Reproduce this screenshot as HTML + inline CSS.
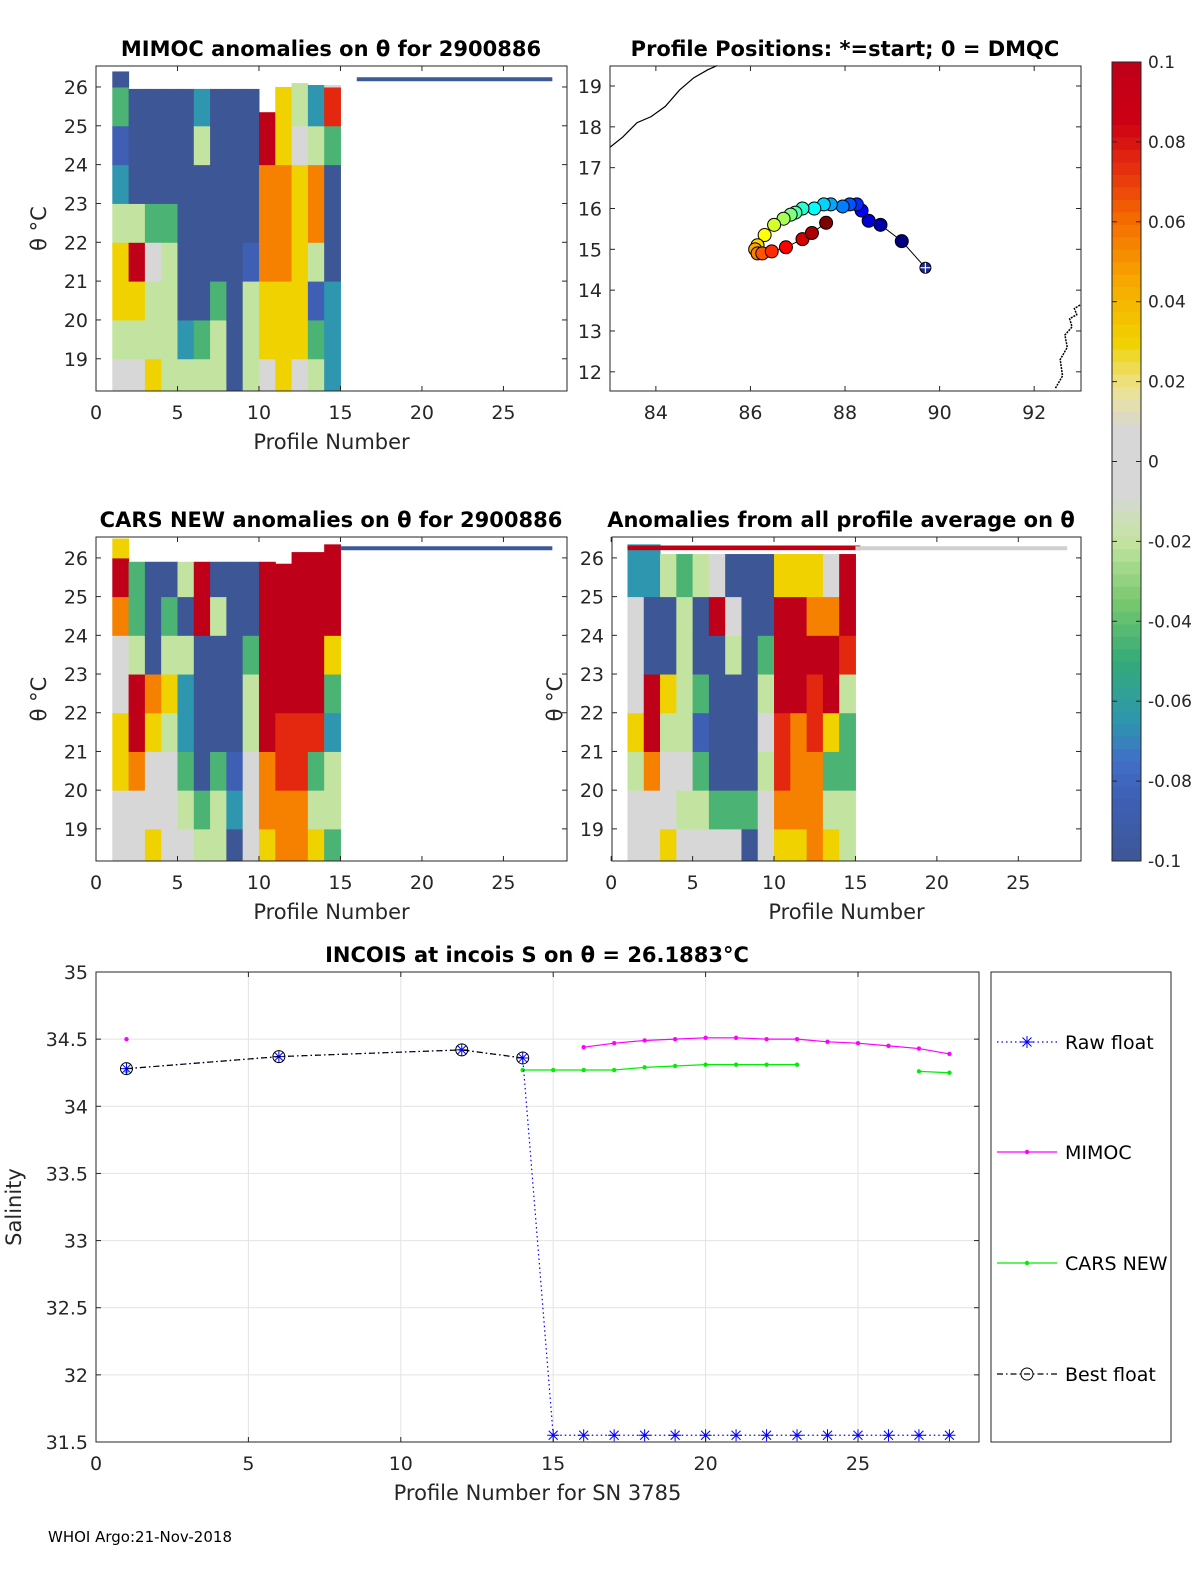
<!DOCTYPE html>
<html><head><meta charset="utf-8"><style>
body{margin:0;background:#fff}
svg{display:block;font-family:"DejaVu Sans","Liberation Sans",sans-serif}
</style></head><body>
<svg id="s" width="1200" height="1575" viewBox="0 0 1200 1575" xmlns="http://www.w3.org/2000/svg"></svg>
<script>
// ---------- data ----------
const codeVals = {B:-0.1,b:-0.085,t:-0.065,g:-0.045,l:-0.02,'0':0,y:0.03,o:0.055,r:0.075,R:0.1};
const bandEdges = [18.17,19,20,21,22,23,24,25,26];
const mimocCols = ['0lyyltbgB','0lyRlBBBB','yll0gBBBB','llllgBBBB','ltBBBBBBB','lgBBBBltB','llgBBBBBB','BBBBBBBBB','lllbBBBBB','0yyoooRRR','yyyoooyy0','0yyyyy0ll','lgblooltt','tttBBBgr0'];
const mimocTops = [26.4,25.95,25.95,25.95,25.95,25.95,25.95,25.95,25.95,25.35,26.0,26.1,26.05,26.05];
const carsCols = ['00yy00oRy','00oRRlggo','y00yoBBBo','000lylgBr','0lgttlBlR','lgBBBBRRR','llgBBBlBB','BtbBBBBBB','000llgBBt','yooRRRRRR','oorrRRRRR','oorrRRRRR','ylgrRRRRR','glltgyRRR'];
const carsTops = [26.5,25.9,25.9,25.9,25.9,25.9,25.9,25.9,25.9,25.9,25.85,26.15,26.15,26.35];
const avgCols = ['00ly000tt','00oRRBBtt','y00lyBBll','0l0llllgg','0lgbgBBll','0gBBBBR00','0gBBBl0BB','BgBBBBBBB','00l0lgBBB','yorrRRRyy','yoooRRRyy','ooorrRoyy','ylgyRRo00','llgglrRRR'];
const avgTops = [26.35,26.35,26.1,26.1,26.1,26.1,26.1,26.1,26.1,26.1,26.1,26.1,26.1,26.1];

const mapLon = [89.2,88.75,88.5,88.35,88.25,88.1,87.95,87.7,87.55,87.35,87.1,86.95,86.85,86.7,86.5,86.3,86.15,86.1,86.15,86.25,86.45,86.75,87.1,87.3,87.6];
const mapLat = [15.2,15.6,15.7,15.95,16.1,16.1,16.05,16.1,16.1,16.0,16.0,15.9,15.85,15.75,15.6,15.35,15.1,15.0,14.9,14.9,14.95,15.05,15.25,15.4,15.65];
const startLon = 89.7, startLat = 14.55;
const coastA_lon = [83.03,83.3,83.6,83.9,84.2,84.5,84.8,85.1,85.3];
const coastA_lat = [17.5,17.75,18.1,18.25,18.5,18.9,19.2,19.4,19.5];
const coastB_lon = [92.45,92.6,92.55,92.7,92.65,92.8,92.75,92.9,92.85,92.99];
const coastB_lat = [11.6,11.9,12.3,12.6,12.9,13.1,13.3,13.4,13.55,13.65];

const profiles = [1,2,3,4,5,6,7,8,9,10,11,12,13,14,15,16,17,18,19,20,21,22,23,24,25,26,27,28];
const rawS  = [34.28,null,null,null,null,34.37,null,null,null,null,null,34.42,null,34.36,31.55,31.55,31.55,31.55,31.55,31.55,31.55,31.55,31.55,31.55,31.55,31.55,31.55,31.55];
const bestS = [34.28,null,null,null,null,34.37,null,null,null,null,null,34.42,null,34.36,null,null,null,null,null,null,null,null,null,null,null,null,null,null];
const mimocS= [34.5,null,null,null,null,null,null,null,null,null,null,null,null,null,null,34.44,34.47,34.49,34.5,34.51,34.51,34.5,34.5,34.48,34.47,34.45,34.43,34.39];
const carsS = [34.26,null,null,null,null,null,null,null,null,null,null,null,null,34.27,34.27,34.27,34.27,34.29,34.3,34.31,34.31,34.31,34.31,null,null,null,34.26,34.25];

// ---------- helpers ----------
const NS='http://www.w3.org/2000/svg', S=document.getElementById('s');
function el(tag,attrs,parent,text){const e=document.createElementNS(NS,tag);for(const k in attrs)e.setAttribute(k,attrs[k]);if(text!==undefined)e.textContent=text;(parent||S).appendChild(e);return e;}
const stops=[[-0.1,[61,86,150]],[-0.085,[62,95,180]],[-0.075,[64,110,200]],[-0.065,[46,150,175]],[-0.05,[52,170,120]],[-0.035,[120,200,110]],[-0.02,[195,228,160]],[-0.008,[215,215,215]],[0.008,[215,215,215]],[0.018,[236,226,150]],[0.03,[240,210,0]],[0.045,[247,168,0]],[0.06,[245,110,0]],[0.075,[228,40,16]],[0.085,[205,0,20]],[0.1,[190,0,24]]];
function cmap(v){v=Math.max(-0.1,Math.min(0.1,v));for(let i=0;i<stops.length-1;i++){const a=stops[i],b=stops[i+1];if(v<=b[0]){const t=(v-a[0])/(b[0]-a[0]);const c=a[1].map((x,k)=>Math.round(x+(b[1][k]-x)*t));return `rgb(${c})`;}}return 'rgb(190,0,24)';}
function lin(d0,d1,r0,r1){return v=>r0+(v-d0)*(r1-r0)/(d1-d0);}

function heatPanel(name,box,xmin,xmax,cols,tops,lineY,lineColor,lineStart,ylabel,xlabel,title,titleX,stripes){
  const g=el('g',{}),x=lin(xmin,xmax,box.l,box.r),y=lin(18.17,26.54,box.b,box.t);
  
  el('rect',{x:box.l,y:box.t,width:box.r-box.l,height:box.b-box.t,fill:'#fff'},g);
  const edges=bandEdges.concat([27]);
  cols.forEach((c,i)=>{const p=i+1;
    for(let k=0;k<9;k++){const v=codeVals[c[k]];const lo=edges[k];let hi=Math.min(edges[k+1],tops[i]);
      if(hi<=lo)continue;const r=el('rect',{x:x(p),y:y(hi),width:x(p+1)-x(p)+0.5,height:y(lo)-y(hi)+0.5,fill:cmap(v)},g);
      }
  });
  if(stripes){el('rect',{x:x(1),y:y(26.32),width:x(15.3)-x(1),height:y(26.2)-y(26.32),fill:'#c00012'},g);}
  el('line',{x1:x(lineStart),x2:x(28),y1:y(lineY),y2:y(lineY),stroke:lineColor,'stroke-width':4},g);
  axesBox(g,box,x,y,[0,5,10,15,20,25],[19,20,21,22,23,24,25,26],xlabel,ylabel,title,titleX,null,50);
}
function axesBox(g,box,x,y,xt,yt,xlabel,ylabel,title,titleX,ylfmt,yoff){
  el('rect',{x:box.l,y:box.t,width:box.r-box.l,height:box.b-box.t,fill:'none',stroke:'#262626','stroke-width':1},g);
  xt.forEach(v=>{const px=x(v);el('line',{x1:px,x2:px,y1:box.b,y2:box.b-5,stroke:'#262626'},g);el('line',{x1:px,x2:px,y1:box.t,y2:box.t+5,stroke:'#262626'},g);
    el('text',{x:px,y:box.b+28,'font-size':19,'text-anchor':'middle',fill:'#262626'},g,v);});
  yt.forEach(v=>{const py=y(v);el('line',{x1:box.l,x2:box.l+5,y1:py,y2:py,stroke:'#262626'},g);el('line',{x1:box.r,x2:box.r-5,y1:py,y2:py,stroke:'#262626'},g);
    el('text',{x:box.l-8,y:py+7,'font-size':19,'text-anchor':'end',fill:'#262626'},g,ylfmt?ylfmt(v):v);});
  if(xlabel){const t=el('text',{x:(box.l+box.r)/2,y:box.b+58,'font-size':21,'text-anchor':'middle',fill:'#262626'},g,xlabel);}
  if(ylabel){const t=el('text',{x:0,y:0,'font-size':21,'text-anchor':'middle',fill:'#262626',transform:`translate(${box.l-(yoff||50)},${(box.t+box.b)/2}) rotate(-90)`},g,ylabel);}
  if(title){const t=el('text',{x:titleX,y:box.t-10,'font-size':21,'font-weight':'bold','text-anchor':'middle',fill:'#000'},g,title);}
}

// ---------- heat panels ----------
heatPanel('mimoc-anomaly-panel',{l:96,r:567,t:66,b:391},0,28.9,mimocCols,mimocTops,26.2,'#3d5a98',16,'θ °C','Profile Number','MIMOC anomalies on θ  for 2900886',331);
heatPanel('cars-anomaly-panel',{l:96,r:567,t:537,b:861},0,28.9,carsCols,carsTops,26.25,'#3d5a98',15,'θ °C','Profile Number','CARS NEW anomalies on θ for 2900886',331);
heatPanel('average-anomaly-panel',{l:612,r:1081,t:537,b:861},0.05,28.85,avgCols,avgTops,26.25,'#d0d0d0',15,'θ °C','Profile Number','Anomalies from all profile average on θ',841,true);

// ---------- map ----------
(function(){
  const box={l:610,r:1081,t:66,b:391},g=el('g',{});
  
  const x=lin(83.03,92.99,box.l,box.r),y=lin(11.53,19.49,box.b,box.t);
  el('polyline',{points:coastA_lon.map((v,i)=>x(v)+','+y(coastA_lat[i])).join(' '),fill:'none',stroke:'#000','stroke-width':1.2},g);
  el('polyline',{points:coastB_lon.map((v,i)=>x(v)+','+y(coastB_lat[i])).join(' '),fill:'none',stroke:'#000','stroke-width':1.5,'stroke-dasharray':'2 1'},g);
  const all=[[startLon,startLat]].concat(mapLon.map((v,i)=>[v,mapLat[i]]));
  el('polyline',{points:all.map(p=>x(p[0])+','+y(p[1])).join(' '),fill:'none',stroke:'#000','stroke-width':1},g);
  const jet=t=>{const r=Math.max(0,Math.min(1,1.5-Math.abs(4*t-3))),gg=Math.max(0,Math.min(1,1.5-Math.abs(4*t-2))),b=Math.max(0,Math.min(1,1.5-Math.abs(4*t-1)));return `rgb(${r*255|0},${gg*255|0},${b*255|0})`;};
  mapLon.forEach((v,i)=>{const c=el('circle',{cx:x(v),cy:y(mapLat[i]),r:6.5,fill:jet(i/(mapLon.length-1)),stroke:'#000','stroke-width':1},g);
    });
  const sc=el('circle',{cx:x(startLon),cy:y(startLat),r:5.5,fill:'#1a2a8f',stroke:'#000'},g);
  
  el('path',{d:`M${x(startLon)-5},${y(startLat)}h10M${x(startLon)},${y(startLat)-5}v10`,stroke:'#fff','stroke-width':1.2},g);
  axesBox(g,box,x,y,[84,86,88,90,92],[12,13,14,15,16,17,18,19],null,null,'Profile Positions: *=start; 0 = DMQC',845);
})();

// ---------- colorbar ----------
(function(){
  const g=el('g',{});
  const y=lin(-0.1,0.1,861,62);const n=64;
  for(let i=0;i<n;i++){const v0=-0.1+i*0.2/n,v1=v0+0.2/n;el('rect',{x:1112,y:y(v1),width:29,height:y(v0)-y(v1)+0.5,fill:cmap((v0+v1)/2)},g);}
  el('rect',{x:1112,y:62,width:29,height:799,fill:'none',stroke:'#262626'},g);
  [-0.1,-0.08,-0.06,-0.04,-0.02,0,0.02,0.04,0.06,0.08,0.1].forEach(v=>{const py=y(v);
    el('line',{x1:1112,x2:1117,y1:py,y2:py,stroke:'#262626'},g);el('line',{x1:1141,x2:1136,y1:py,y2:py,stroke:'#262626'},g);
    el('text',{x:1148,y:py+6,'font-size':17,fill:'#262626'},g,Math.abs(v)<1e-9?'0':(+v.toFixed(2)).toString());});
})();

// ---------- salinity chart ----------
(function(){
  const box={l:96,r:979,t:972,b:1442},g=el('g',{});
  
  const x=lin(0,28.97,box.l,box.r),y=lin(31.5,35,box.b,box.t);
  [5,10,15,20,25].forEach(v=>el('line',{x1:x(v),x2:x(v),y1:box.t,y2:box.b,stroke:'#e3e3e3'},g));
  [32,32.5,33,33.5,34,34.5].forEach(v=>el('line',{x1:box.l,x2:box.r,y1:y(v),y2:y(v),stroke:'#e3e3e3'},g));
  function segs(arr){const out=[];let cur=[];arr.forEach((v,i)=>{if(v==null){if(cur.length)out.push(cur);cur=[];}else cur.push([x(profiles[i]),y(v)]);});if(cur.length)out.push(cur);return out;}
  function pts(arr){return arr.map((v,i)=>v==null?null:[x(profiles[i]),y(v)]).filter(p=>p);}
  function drawLine(arr,color,dash,name,connectAll){
    const list=connectAll?[pts(arr)]:segs(arr);
    list.forEach(s=>{if(s.length>1){const l=el('polyline',{points:s.map(p=>p.join(',')).join(' '),fill:'none',stroke:color,'stroke-width':1.2,'stroke-dasharray':dash||'none'},g);
      }});
  }
  drawLine(mimocS,'#ff00ff',null,'mimoc-line');
  pts(mimocS).forEach(p=>el('circle',{cx:p[0],cy:p[1],r:2.2,fill:'#ff00ff'},g));
  drawLine(carsS,'#00ee00',null,'cars-line');
  pts(carsS).forEach(p=>el('circle',{cx:p[0],cy:p[1],r:2.2,fill:'#00ee00'},g));
  drawLine(rawS,'#0000ff','1.5 3','raw-float-line',true);
  pts(rawS).forEach(p=>{const m=el('path',{d:`M${p[0]-6},${p[1]}h12M${p[0]},${p[1]-6}v12M${p[0]-4.5},${p[1]-4.5}l9,9M${p[0]-4.5},${p[1]+4.5}l9,-9`,stroke:'#0000ff','stroke-width':1},g);
    });
  drawLine(bestS,'#000','6 3 1.5 3','best-float-line',true);
  pts(bestS).forEach(p=>el('circle',{cx:p[0],cy:p[1],r:6,fill:'none',stroke:'#000'},g));
  axesBox(g,box,x,y,[0,5,10,15,20,25],[31.5,32,32.5,33,33.5,34,34.5,35],'Profile Number for SN 3785','Salinity','INCOIS at incois S on θ = 26.1883°C',537,null,75);
  // legend
  const lg=el('g',{});
  el('rect',{x:991,y:972,width:180,height:470,fill:'#fff',stroke:'#262626'},lg);
  const ent=[['Raw float','#0000ff','1.5 3',1042],['MIMOC','#ff00ff',null,1152],['CARS NEW','#00ee00',null,1263],['Best float','#000','6 3 1.5 3',1374]];
  ent.forEach((e,i)=>{const eg=el('g',{},lg);
    el('line',{x1:997,x2:1057,y1:e[3],y2:e[3],stroke:e[1],'stroke-width':1.2,'stroke-dasharray':e[2]||'none'},eg);
    if(i==0)el('path',{d:`M1021,1042h12M1027,1036v12M1022.5,1037.5l9,9M1022.5,1046.5l9,-9`,stroke:'#0000ff'},eg);
    if(i==1||i==2)el('circle',{cx:1027,cy:e[3],r:2.2,fill:e[1]},eg);
    if(i==3)el('circle',{cx:1027,cy:e[3],r:6,fill:'none',stroke:'#000'},eg);
    el('text',{x:1065,y:e[3]+7,'font-size':19,fill:'#000'},eg,e[0]);});
})();
const ft=el('text',{x:48,y:1542,'font-size':15,fill:'#000'},S,'WHOI Argo:21-Nov-2018');

</script>
</body></html>
